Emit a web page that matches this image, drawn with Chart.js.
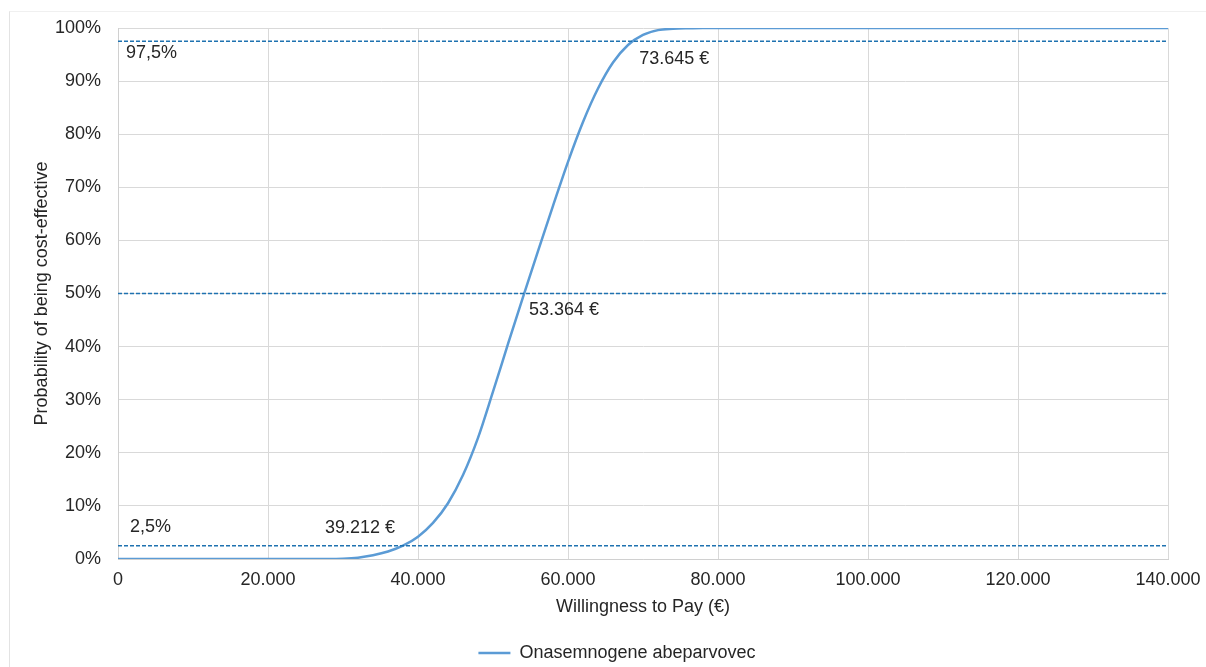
<!DOCTYPE html>
<html>
<head>
<meta charset="utf-8">
<script src="https://cdn.jsdelivr.net/npm/chart.js@4.4.1/dist/chart.umd.min.js"></script>
<style>
  html, body { margin: 0; padding: 0; background: #ffffff; overflow: hidden; }
  #frame { position: absolute; left: 9px; top: 11px; width: 1220px; height: 700px;
           border-left: 1px solid #e3e3e3; border-top: 1px solid #f0f0f0; }
  #wrap { position: absolute; left: 0; top: 0; width: 1206px; height: 672px; }
</style>
</head>
<body>
<div id="frame"></div>
<div id="wrap"><canvas id="c"></canvas></div>
<script>
// ---- data ----
const seriesName = 'Onasemnogene abeparvovec';
const wtp = [0, 10000, 20000, 28000, 30000, 32000, 34000, 36000, 38000, 40000,
             42000, 44000, 46000, 48000, 50000, 52000, 54000, 56000, 58000, 60000,
             62000, 64000, 66000, 68000, 70000, 72000, 74000, 76000, 78000, 80000,
             100000, 120000, 140000];
const probability = [0, 0, 0, 0, 0.05, 0.25, 0.7, 1.4, 2.5, 4.2,
                     6.8, 10.5, 15.8, 22.8, 31.5, 40.5, 49.3, 58, 66.5, 74.8,
                     82.3, 88.6, 93.5, 96.8, 98.7, 99.6, 99.85, 99.95, 100, 100,
                     100, 100, 100];
const thresholds = [2.5, 50, 97.5];
const xTicksMin = 0, xTicksMax = 140000, xStep = 20000;
const yTicksMin = 0, yTicksMax = 100, yStep = 10;
const noteTexts = ['97,5%', '2,5%', '39.212 €', '53.364 €', '73.645 €'];
const noteX = [1067, 1600, 32270, 59470, 74180];
const noteY = [95.3, 6.0, 5.8, 46.9, 94.1];
const noteAlign = ['left', 'left', 'center', 'center', 'center'];

const FONT = '"Liberation Sans", Arial, sans-serif';
const TXT = '#262626';

function fmtThousands(v) {
  return String(Math.round(v)).replace(/\B(?=(\d{3})+(?!\d))/g, '.');
}

const datasets = [{
  label: seriesName,
  data: wtp.map((x, i) => ({ x: x, y: probability[i] })),
  borderColor: '#5b9bd5',
  backgroundColor: '#5b9bd5',
  borderWidth: 2.5,
  pointRadius: 0,
  cubicInterpolationMode: 'monotone',
  fill: false,
  order: 1
}];
thresholds.forEach(t => {
  datasets.push({
    label: 'thr' + t,
    data: [{ x: xTicksMin, y: t }, { x: xTicksMax, y: t }],
    borderColor: '#1f72b0',
    borderWidth: 1.5,
    borderDash: [4, 2],
    pointRadius: 0,
    fill: false,
    order: 0
  });
});

const notesPlugin = {
  id: 'notes',
  afterLayout(chart) {
    if (chart.legend) { chart.legend.left += 22; chart.legend.right += 22; }
  },
  afterDatasetsDraw(chart) {
    const ctx = chart.ctx, xs = chart.scales.x, ys = chart.scales.y;
    ctx.save();
    ctx.font = '18px ' + FONT;
    ctx.fillStyle = TXT;
    ctx.textBaseline = 'middle';
    noteTexts.forEach((t, i) => {
      ctx.textAlign = noteAlign[i];
      ctx.fillText(t, xs.getPixelForValue(noteX[i]), ys.getPixelForValue(noteY[i]));
    });
    ctx.restore();
  }
};

new Chart(document.getElementById('c'), {
  type: 'line',
  data: { datasets: datasets },
  plugins: [notesPlugin],
  options: {
    responsive: true,
    maintainAspectRatio: false,
    animation: false,
    layout: { padding: { left: 22, top: 28, right: 38, bottom: 0 } },
    plugins: {
      tooltip: { enabled: false },
      legend: {
        position: 'bottom',
        labels: {
          filter: (item) => item.datasetIndex === 0,
          usePointStyle: true,
          pointStyle: 'line',
          pointStyleWidth: 32,
          padding: 6,
          color: TXT,
          font: { family: FONT, size: 18 }
        }
      }
    },
    scales: {
      x: {
        type: 'linear',
        min: xTicksMin, max: xTicksMax,
        afterFit: (s) => { s.height = 79; s.paddingRight = 0; s.paddingLeft = 0; },
        ticks: {
          stepSize: xStep,
          padding: 10,
          maxRotation: 0,
          color: TXT,
          font: { family: FONT, size: 18 },
          callback: (v) => fmtThousands(v)
        },
        grid: { color: '#d9d9d9', lineWidth: 1, drawTicks: false },
        border: { color: '#d0d0d0' },
        title: {
          display: true,
          text: 'Willingness to Pay (€)',
          color: TXT,
          font: { family: FONT, size: 18 },
          padding: { top: 0, bottom: 20 }
        }
      },
      y: {
        min: yTicksMin, max: yTicksMax,
        afterFit: (s) => { s.width = 96; },
        ticks: {
          stepSize: yStep,
          padding: 17,
          color: TXT,
          font: { family: FONT, size: 18 },
          callback: (v) => v + '%'
        },
        grid: { color: '#d9d9d9', lineWidth: 1, drawTicks: false },
        border: { color: '#d0d0d0' },
        title: {
          display: true,
          text: 'Probability of being cost-effective',
          color: TXT,
          font: { family: FONT, size: 18 },
          padding: { top: 9, bottom: 0 }
        }
      }
    }
  }
});
</script>
</body>
</html>
